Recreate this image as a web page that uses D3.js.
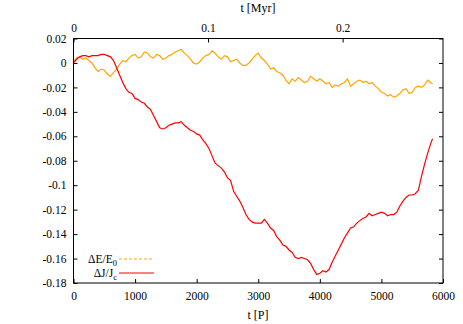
<!DOCTYPE html>
<html lang="en">
<head>
<meta charset="utf-8">
<script src="https://d3js.org/d3.v7.min.js"></script>
<style>
  body { margin: 0; background: #fff; }
  text { font-family: "Liberation Serif", "DejaVu Serif", serif; }
</style>
</head>
<body>
<script>
// time in orbital periods P
var tP = [0,50,100,150,200,250,300,350,400,450,
          500,550,600,650,700,750,800,850,900,950,
          1000,1050,1100,1150,1200,1250,1300,1350,1400,1450,
          1500,1550,1600,1650,1700,1750,1800,1850,1900,1950,
          2000,2050,2100,2150,2200,2250,2300,2350,2400,2450,
          2500,2550,2600,2650,2700,2750,2800,2850,2900,2950,
          3000,3050,3100,3150,3200,3250,3300,3350,3400,3450,
          3500,3550,3600,3650,3700,3750,3800,3850,3900,3950,
          4000,4050,4100,4150,4200,4250,4300,4350,4400,4450,
          4500,4550,4600,4650,4700,4750,4800,4850,4900,4950,
          5000,5050,5100,5150,5200,5250,5300,5350,5400,5450,
          5500,5550,5600,5650,5700,5750,5800,5830];

// dE/E0
var dE = [0.001,0.004,0.005,0.003,0.004,0.002,0.000,-0.004,-0.007,-0.005,
          -0.006,-0.009,-0.011,-0.008,-0.005,-0.001,0.002,0.001,0.004,0.006,
          0.007,0.004,0.005,0.009,0.008,0.005,0.004,0.007,0.006,0.003,
          0.004,0.006,0.007,0.009,0.010,0.011,0.008,0.006,0.003,0.000,
          -0.001,0.001,0.004,0.006,0.007,0.010,0.008,0.005,0.003,0.006,
          0.005,0.001,0.002,0.003,0.000,-0.002,-0.002,0.000,0.003,0.006,
          0.008,0.004,0.002,-0.001,-0.005,-0.004,-0.007,-0.008,-0.010,-0.014,
          -0.017,-0.013,-0.015,-0.012,-0.014,-0.016,-0.015,-0.011,-0.013,-0.015,
          -0.013,-0.015,-0.017,-0.016,-0.020,-0.018,-0.019,-0.017,-0.016,-0.013,
          -0.019,-0.017,-0.015,-0.014,-0.016,-0.015,-0.017,-0.016,-0.019,-0.021,
          -0.024,-0.025,-0.027,-0.026,-0.028,-0.027,-0.025,-0.022,-0.021,-0.025,
          -0.024,-0.020,-0.019,-0.020,-0.018,-0.014,-0.016,-0.017];

// dJ/Jc
var dJ = [0.000,0.003,0.005,0.006,0.006,0.005,0.006,0.006,0.006,0.007,
          0.007,0.006,0.005,0.002,-0.004,-0.010,-0.016,-0.021,-0.024,-0.025,
          -0.029,-0.030,-0.032,-0.033,-0.036,-0.038,-0.043,-0.048,-0.053,-0.054,
          -0.053,-0.051,-0.050,-0.049,-0.049,-0.048,-0.051,-0.053,-0.055,-0.056,
          -0.058,-0.059,-0.063,-0.066,-0.070,-0.076,-0.082,-0.084,-0.086,-0.089,
          -0.094,-0.096,-0.105,-0.109,-0.113,-0.118,-0.124,-0.128,-0.130,-0.131,
          -0.131,-0.131,-0.128,-0.131,-0.135,-0.137,-0.142,-0.145,-0.149,-0.150,
          -0.153,-0.155,-0.159,-0.160,-0.159,-0.160,-0.161,-0.164,-0.169,-0.173,
          -0.172,-0.170,-0.171,-0.169,-0.163,-0.158,-0.153,-0.148,-0.143,-0.139,
          -0.135,-0.134,-0.131,-0.129,-0.127,-0.126,-0.123,-0.125,-0.124,-0.123,
          -0.122,-0.123,-0.125,-0.124,-0.124,-0.122,-0.117,-0.113,-0.110,-0.108,
          -0.108,-0.107,-0.104,-0.093,-0.083,-0.074,-0.066,-0.062];

var xTicks = [0,1000,2000,3000,4000,5000,6000];
var yTicks = [0.02,0,-0.02,-0.04,-0.06,-0.08,-0.1,-0.12,-0.14,-0.16,-0.18];
var myrTicks = [0,0.1,0.2];
var myrPerP = 0.1 / 2185;

var W = 463, H = 324;
var L = 73.5, R = 443, T = 38.5, B = 283;

var svg = d3.select("body").append("svg")
    .attr("width", W).attr("height", H);

var x = d3.scaleLinear().domain([0, 6000]).range([L, R]);
var x2 = d3.scaleLinear().domain([0, 6000 * myrPerP]).range([L, R]);
var y = d3.scaleLinear().domain([-0.18, 0.02]).range([B, T]);

var fmt = function(d) { return String(+d.toFixed(2)); };

function styleAxis(g) {
  g.select(".domain").remove();
  g.selectAll("line").attr("stroke", "#000");
  g.selectAll("text").attr("font-size", 11.5).attr("fill", "#000")
    .style("font-family", "'Liberation Serif', serif");
}

svg.append("g").attr("transform", "translate(" + L + ",0)")
  .call(d3.axisLeft(y).tickValues(yTicks).tickFormat(fmt).tickSizeInner(-4).tickSizeOuter(0).tickPadding(7))
  .call(styleAxis);

svg.append("g").attr("transform", "translate(" + R + ",0)")
  .call(d3.axisRight(y).tickValues(yTicks).tickFormat("").tickSizeInner(-4).tickSizeOuter(0))
  .call(styleAxis);

svg.append("g").attr("transform", "translate(0," + B + ")")
  .call(d3.axisBottom(x).tickValues(xTicks).tickFormat(d3.format("d")).tickSizeInner(-4).tickSizeOuter(0).tickPadding(9))
  .call(styleAxis);

svg.append("g").attr("transform", "translate(0," + T + ")")
  .call(d3.axisTop(x2).tickValues(myrTicks).tickFormat(fmt).tickSizeInner(-4).tickSizeOuter(0).tickPadding(7))
  .call(styleAxis);

var line = d3.line()
  .x(function(d) { return x(d[0]); })
  .y(function(d) { return y(d[1]); });

svg.append("path")
  .datum(tP.map(function(t, i) { return [t, dE[i]]; }))
  .attr("d", line)
  .attr("fill", "none")
  .attr("stroke", "#ffa500")
  .attr("stroke-width", 1.2);

svg.append("path")
  .datum(tP.map(function(t, i) { return [t, dJ[i]]; }))
  .attr("d", line)
  .attr("fill", "none")
  .attr("stroke", "#ff0000")
  .attr("stroke-width", 1.2);

// frame
svg.append("rect")
  .attr("x", L).attr("y", T)
  .attr("width", R - L).attr("height", B - T)
  .attr("fill", "none").attr("stroke", "#000").attr("stroke-width", 1);

// axis titles
svg.append("text").attr("x", 258).attr("y", 319).attr("text-anchor", "middle")
  .attr("font-size", 12).text("t [P]");
svg.append("text").attr("x", 258).attr("y", 12).attr("text-anchor", "middle")
  .attr("font-size", 12).text("t [Myr]");

// legend
var legend = [
  {main: "\u0394E/E", sub: "0", color: "#ffa500", dash: "3,2"},
  {main: "\u0394J/J", sub: "c", color: "#ff0000", dash: null}
];
legend.forEach(function(d, i) {
  var ly = 259 + i * 14;
  var t = svg.append("text").attr("x", 117).attr("y", ly + 4)
    .attr("text-anchor", "end").attr("font-size", 11.5);
  t.append("tspan").text(d.main);
  t.append("tspan").attr("font-size", 8.5).attr("dy", 3).text(d.sub);
  svg.append("line")
    .attr("x1", 119).attr("x2", 154).attr("y1", ly).attr("y2", ly)
    .attr("stroke", d.color).attr("stroke-width", 1)
    .attr("stroke-dasharray", d.dash);
});
</script>
</body>
</html>
